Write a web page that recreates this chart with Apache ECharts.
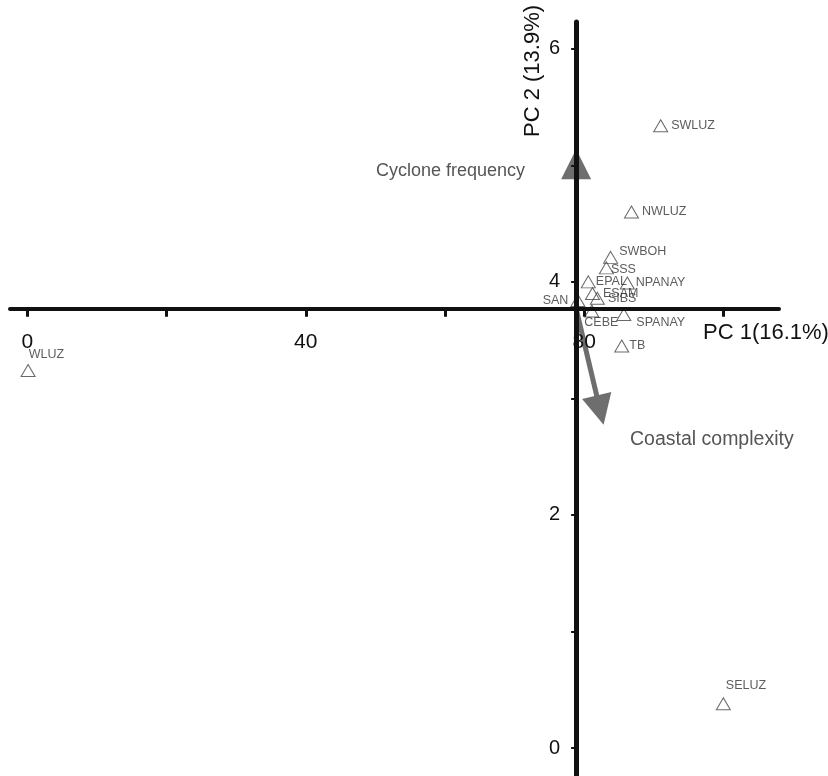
<!DOCTYPE html>
<html>
<head>
<meta charset="utf-8">
<title>PCA biplot</title>
<script src="https://cdn.jsdelivr.net/npm/echarts@6/dist/echarts.min.js"></script>
<style>
  html, body { margin: 0; padding: 0; background: #fff; }
  #c1 { width: 828px; height: 776px; }
</style>
</head>
<body>
<div id="c1"></div>
<script>
// site scores
const sites = ['WLUZ', 'SWLUZ', 'NWLUZ', 'SWBOH', 'SSS', 'EPAL', 'NPANAY', 'SAN', 'ESAM', 'SIBS', 'CEBE', 'SPANAY', 'TB', 'SELUZ']
const pc1 = [0.1, 91.0, 86.8, 83.8, 83.2, 80.6, 86.2, 79.1, 81.2, 81.9, 81.1, 85.7, 85.4, 100.0]
const pc2 = [3.24, 5.34, 4.60, 4.21, 4.12, 4.00, 3.99, 3.84, 3.90, 3.86, 3.75, 3.72, 3.45, 0.38]

// variable vectors, drawn from the point where the axes cross
const origin = [78.85, 3.77]
const vectorNames = ['Cyclone frequency', 'Coastal complexity']
const vectorEnds = [[78.85, 5.01], [82.3, 2.9]]

// axis ticks / labels
const xTicks = [0, 20, 40, 60, 80, 100]
const xLabels = [0, 40, 80]
const yTicks = [0, 1, 2, 3, 4, 5, 6]
const yLabels = [0, 2, 4, 6]

// label nudges for the crowded points
const labelOffset = {
  WLUZ: [-10, -16], SWBOH: [-2, -6], SSS: [-6, 2], EPAL: [-3, 0], NPANAY: [-2, 0],
  CEBE: [-18, 12], SPANAY: [2, 8], TB: [-3, 0], SELUZ: [-8, -18]
}

const grid = { left: 10, top: 22, width: 769, height: 754 }
const font = 'Liberation Sans, Arial, sans-serif'

const myChart = echarts.init(document.getElementById('c1'))

const points = sites.map((name, i) => {
  const item = { name, value: [pc1[i], pc2[i]] }
  if (name === 'SAN') {
    item.label = { position: 'left', distance: 2 }
  } else if (labelOffset[name]) {
    item.label = { offset: labelOffset[name] }
  }
  return item
})

const option = {
  backgroundColor: '#fff',
  animation: false,
  grid: Object.assign({ containLabel: false, outerBoundsMode: 'none' }, grid),
  xAxis: {
    type: 'value',
    min: -2.5,
    max: 108,
    position: 'bottom',
    z: 4,
    splitLine: { show: false },
    axisLine: { onZero: false, lineStyle: { color: '#111', width: 4 } },
    axisTick: { customValues: xTicks, length: 8, lineStyle: { color: '#111', width: 3 } },
    axisLabel: { customValues: xLabels, margin: 23, color: '#111', fontSize: 21, fontFamily: font }
  },
  yAxis: {
    type: 'value',
    min: -0.24,
    max: 6.23,
    position: 'left',
    z: 5,
    splitLine: { show: false },
    axisLine: { onZero: false, lineStyle: { color: '#111', width: 5 } },
    axisTick: { customValues: yTicks, length: 5, lineStyle: { color: '#111', width: 2 } },
    axisLabel: { customValues: yLabels, margin: 16, color: '#111', fontSize: 20, fontFamily: font }
  },
  series: [
    {
      name: 'vectors',
      type: 'lines',
      coordinateSystem: 'cartesian2d',
      z: 3,
      symbol: ['none', 'triangle'],
      symbolSize: [0, 30],
      lineStyle: { color: '#6e6e6e', width: 5, opacity: 1, curveness: 0 },
      data: vectorEnds.map((end, i) => ({ name: vectorNames[i], coords: [origin, end] }))
    },
    {
      name: 'sites',
      type: 'scatter',
      z: 2,
      symbol: 'triangle',
      symbolSize: [14, 12],
      itemStyle: { color: 'rgba(255,255,255,0)', borderColor: '#444', borderWidth: 1 },
      label: {
        show: true,
        position: 'right',
        distance: 3,
        formatter: '{b}',
        color: '#333',
        fontSize: 12.5,
        fontFamily: font
      },
      data: points
    }
  ],
  graphic: [
    {
      type: 'text', x: 533, y: 71, rotation: Math.PI / 2,
      style: { text: 'PC 2 (13.9%)', font: '22px ' + font, fill: '#111', align: 'center', verticalAlign: 'middle' }
    },
    {
      type: 'text', x: 703, y: 333,
      style: { text: 'PC 1(16.1%)', font: '22px ' + font, fill: '#111', align: 'left', verticalAlign: 'middle' }
    },
    {
      type: 'text', x: 525, y: 171,
      style: { text: vectorNames[0], font: '18px ' + font, fill: '#555', align: 'right', verticalAlign: 'middle' }
    },
    {
      type: 'text', x: 630, y: 440,
      style: { text: vectorNames[1], font: '19.5px ' + font, fill: '#555', align: 'left', verticalAlign: 'middle' }
    }
  ]
}
myChart.setOption(option)

// move the axis lines so they cross at the origin of the vectors
const p = myChart.convertToPixel({ gridIndex: 0 }, origin)
myChart.setOption({
  xAxis: { offset: p[1] - (grid.top + grid.height) },
  yAxis: { offset: grid.left - p[0] }
})
</script>
</body>
</html>
